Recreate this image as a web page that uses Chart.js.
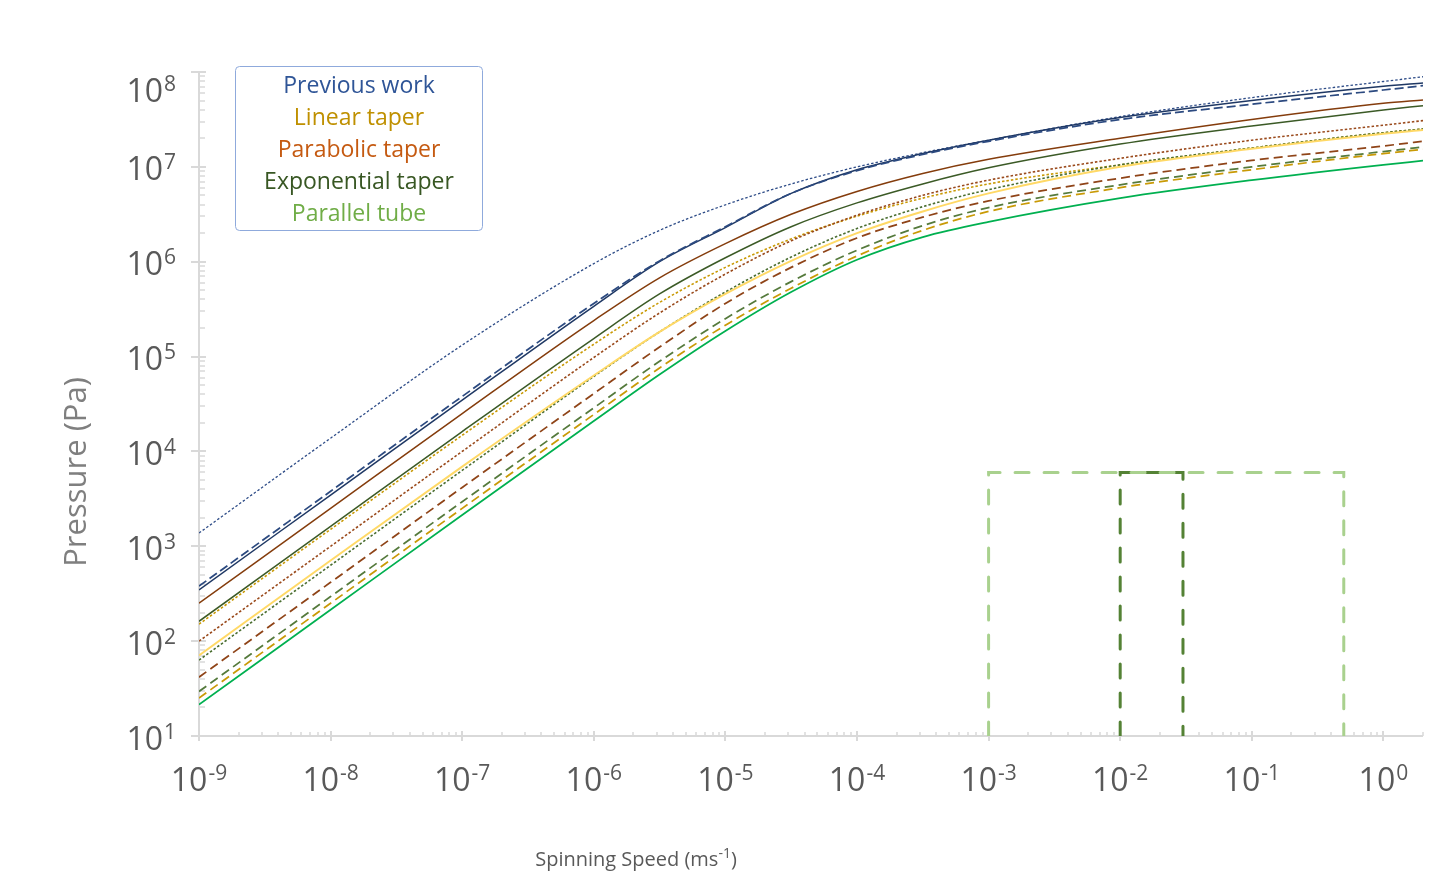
<!DOCTYPE html>
<html>
<head>
<meta charset="utf-8">
<script src="https://cdn.jsdelivr.net/npm/chart.js@4.4.1/dist/chart.umd.min.js"></script>
<style>
  body { margin: 0; background: #fff; }
  #wrap { width: 1450px; height: 875px; }
</style>
</head>
<body>
<div id="wrap"><canvas id="chart" width="1450" height="875"></canvas></div>
<script>
// Spinning speed (m/s) at which each curve was read
const speeds = [1e-9, 1e-8, 1e-7, 1e-6, 3.16e-6, 1e-5, 3.16e-5, 1e-4, 3.16e-4, 1e-3, 1e-2, 1e-1, 1, 2];

// Pressure (Pa) for each curve
const prevDotted  = [1.38e3, 1.38e4, 1.32e5, 9.55e5, 2.14e6, 3.98e6, 6.61e6, 1.0e7, 1.41e7, 1.91e7, 3.39e7, 5.37e7, 7.94e7, 8.91e7];
const prevSolid   = [3.47e2, 3.47e3, 3.47e4, 3.39e5, 1.0e6, 2.29e6, 5.25e6, 9.33e6, 1.38e7, 1.91e7, 3.31e7, 5.01e7, 7.08e7, 7.67e7];
const prevDashed  = [3.80e2, 3.80e3, 3.80e4, 3.63e5, 1.02e6, 2.34e6, 5.25e6, 9.12e6, 1.35e7, 1.86e7, 3.16e7, 4.57e7, 6.46e7, 7.18e7];
const paraSolid   = [2.51e2, 2.51e3, 2.51e4, 2.40e5, 6.76e5, 1.55e6, 3.16e6, 5.50e6, 8.51e6, 1.20e7, 2.0e7, 3.16e7, 4.68e7, 5.07e7];
const expoSolid   = [1.62e2, 1.62e3, 1.62e4, 1.55e5, 4.57e5, 1.10e6, 2.34e6, 4.17e6, 6.61e6, 9.77e6, 1.74e7, 2.69e7, 3.98e7, 4.42e7];
const linDotted   = [1.51e2, 1.51e3, 1.48e4, 1.35e5, 3.72e5, 8.71e5, 1.74e6, 3.02e6, 4.68e6, 6.61e6, 1.05e7, 1.58e7, 2.29e7, 2.51e7];
const paraDotted  = [1.0e2, 1.0e3, 1.0e4, 9.77e4, 2.88e5, 7.41e5, 1.66e6, 3.09e6, 5.01e6, 7.24e6, 1.23e7, 1.91e7, 2.75e7, 3.07e7];
const linSolid    = [70.8, 7.08e2, 6.92e3, 6.31e4, 1.82e5, 4.57e5, 1.02e6, 2.0e6, 3.39e6, 5.25e6, 1.0e7, 1.55e7, 2.24e7, 2.45e7];
const expoDotted  = [63.1, 6.31e2, 6.31e3, 6.17e4, 1.82e5, 4.79e5, 1.12e6, 2.24e6, 3.80e6, 5.75e6, 1.05e7, 1.58e7, 2.29e7, 2.51e7];
const paraDashed  = [41.7, 4.17e2, 4.17e3, 4.07e4, 1.26e5, 3.63e5, 8.71e5, 1.78e6, 2.95e6, 4.37e6, 7.59e6, 1.17e7, 1.66e7, 1.86e7];
const expoDashed  = [29.5, 2.95e2, 2.95e3, 2.88e4, 8.91e4, 2.51e5, 6.17e5, 1.32e6, 2.40e6, 3.72e6, 6.46e6, 1.0e7, 1.45e7, 1.62e7];
const linDashed   = [25.1, 2.51e2, 2.51e3, 2.45e4, 7.59e4, 2.14e5, 5.25e5, 1.15e6, 2.14e6, 3.39e6, 6.03e6, 9.33e6, 1.38e7, 1.53e7];
const tubeSolid   = [21.4, 2.14e2, 2.14e3, 2.09e4, 6.46e4, 1.86e5, 4.79e5, 1.05e6, 1.82e6, 2.63e6, 4.68e6, 7.24e6, 1.05e7, 1.16e7];

// Operating windows (dashed boxes)
const wideBoxX = [1e-3, 1e-3, 0.5, 0.5];
const narrowBoxX = [0.01, 0.01, 0.03, 0.03];
const boxY = [10, 6000, 6000, 10];

// Axis tick exponents
const xExponents = [-9, -8, -7, -6, -5, -4, -3, -2, -1, 0];
const yExponents = [1, 2, 3, 4, 5, 6, 7, 8];

// Text box
const legendNames = ["Previous work", "Linear taper", "Parabolic taper", "Exponential taper", "Parallel tube"];
const legendColors = ["#2f5597", "#bf9000", "#c55a11", "#385723", "#70ad47"];

const toPoints = (xs, ys) => xs.map((x, i) => ({ x: x, y: ys[i] }));

const DOT = [2.5, 2];
const DASH = [9, 5];

function curve(label, values, color, width, dash) {
  return {
    label: label,
    data: toPoints(speeds, values),
    borderColor: color,
    borderWidth: width,
    borderDash: dash || [],
    showLine: true,
    pointRadius: 0,
    cubicInterpolationMode: "monotone",
  };
}

function box(label, xs, color) {
  return {
    label: label,
    data: toPoints(xs, boxY),
    borderColor: color,
    borderWidth: 3,
    borderDash: [14, 15],
    borderCapStyle: "round",
    borderJoinStyle: "miter",
    showLine: true,
    pointRadius: 0,
    tension: 0,
  };
}

const datasets = [
  curve("Parallel tube", tubeSolid, "#00b050", 1.75),
  curve("Linear dashed", linDashed, "#c99a06", 1.75, DASH),
  curve("Exponential dashed", expoDashed, "#557a3c", 1.75, DASH),
  curve("Parabolic dashed", paraDashed, "#8f4418", 1.75, DASH),
  curve("Linear solid", linSolid, "#ffd966", 2),
  curve("Exponential dotted", expoDotted, "#4a6e30", 1.6, DOT),
  curve("Parabolic dotted", paraDotted, "#9a4a1c", 1.6, DOT),
  curve("Linear dotted", linDotted, "#c99a06", 1.6, DOT),
  curve("Exponential solid", expoSolid, "#3b5a26", 1.5),
  curve("Parabolic solid", paraSolid, "#843c0c", 1.5),
  curve("Previous dashed", prevDashed, "#2c4a80", 1.75, [9, 4]),
  curve("Previous solid", prevSolid, "#1f3864", 1.5),
  curve("Previous dotted", prevDotted, "#2f4d88", 1.3, DOT),
  box("Wide window", wideBoxX, "#a9d18e"),
  box("Narrow window", narrowBoxX, "#548235"),
];

// Excel style axes, ticks, labels and text box
function drawPower(ctx, exp, x, baseline, align) {
  ctx.font = '32px "Open Sans"';
  const wb = ctx.measureText("10").width;
  ctx.font = '21px "Open Sans"';
  const we = ctx.measureText(exp).width;
  const total = wb + 1 + we;
  const left = align === "center" ? x - total / 2 : x - total;
  ctx.textAlign = "left";
  ctx.textBaseline = "alphabetic";
  ctx.font = '32px "Open Sans"';
  ctx.fillText("10", left, baseline);
  ctx.font = '21px "Open Sans"';
  ctx.fillText(exp, left + wb + 1, baseline - 11);
}

const excelAxes = {
  id: "excelAxes",
  beforeDatasetsDraw(chart) {
    const { ctx, chartArea: a, scales: { x, y } } = chart;
    const seg = (x1, y1, x2, y2) => { ctx.moveTo(x1, y1); ctx.lineTo(x2, y2); };
    ctx.save();
    ctx.strokeStyle = "#d9d9d9";
    ctx.lineWidth = 2;
    ctx.beginPath();
    seg(a.left, a.top, a.left, a.bottom + 1);
    seg(a.left - 1, a.bottom, a.right, a.bottom);
    // major ticks
    yExponents.forEach((e) => {
      const py = Math.round(y.getPixelForValue(Math.pow(10, e)));
      seg(a.left - 8, py, a.left + 7, py);
    });
    xExponents.forEach((e) => {
      const px = Math.round(x.getPixelForValue(Math.pow(10, e)));
      seg(px, a.bottom - 5, px, a.bottom + 5);
    });
    ctx.stroke();
    // minor ticks
    ctx.lineWidth = 1.5;
    ctx.beginPath();
    yExponents.slice(0, -1).forEach((e) => {
      for (let m = 2; m < 10; m++) {
        const py = Math.round(y.getPixelForValue(m * Math.pow(10, e)));
        seg(a.left, py, a.left + 6, py);
      }
    });
    xExponents.forEach((e) => {
      for (let m = 2; m < 10; m++) {
        const v = m * Math.pow(10, e);
        if (v > x.max) break;
        const px = Math.round(x.getPixelForValue(v));
        seg(px, a.bottom - 4, px, a.bottom);
      }
    });
    ctx.stroke();
    ctx.restore();
  },
  afterDraw(chart) {
    const { ctx, scales: { x, y } } = chart;
    ctx.save();
    ctx.fillStyle = "#595959";
    yExponents.forEach((e) => {
      const py = y.getPixelForValue(Math.pow(10, e));
      drawPower(ctx, String(e), 176, Math.max(py + 13.5, 102), "right");
    });
    xExponents.forEach((e) => {
      const px = x.getPixelForValue(Math.pow(10, e));
      drawPower(ctx, String(e), px, 791, "center");
    });

    // axis titles
    ctx.fillStyle = "#7f7f7f";
    ctx.font = '31px "Open Sans"';
    ctx.textAlign = "center";
    ctx.textBaseline = "middle";
    ctx.save();
    ctx.translate(77, 472);
    ctx.rotate(-Math.PI / 2);
    ctx.fillText("Pressure (Pa)", 0, 0);
    ctx.restore();

    ctx.fillStyle = "#595959";
    ctx.textAlign = "left";
    ctx.textBaseline = "alphabetic";
    const t1 = "Spinning Speed (ms", t2 = "-1", t3 = ")";
    ctx.font = '20px "Open Sans"';
    const w1 = ctx.measureText(t1).width, w3 = ctx.measureText(t3).width;
    ctx.font = '14px "Open Sans"';
    const w2 = ctx.measureText(t2).width;
    const tx = 636 - (w1 + w2 + w3) / 2;
    ctx.font = '20px "Open Sans"';
    ctx.fillText(t1, tx, 866);
    ctx.font = '14px "Open Sans"';
    ctx.fillText(t2, tx + w1, 858);
    ctx.font = '20px "Open Sans"';
    ctx.fillText(t3, tx + w1 + w2, 866);

    // text box with coloured names
    ctx.strokeStyle = "#8faadc";
    ctx.lineWidth = 1;
    ctx.beginPath();
    ctx.roundRect(235.5, 66.5, 247, 164, 4);
    ctx.stroke();
    ctx.font = '23px "Open Sans"';
    ctx.textAlign = "center";
    ctx.textBaseline = "middle";
    legendNames.forEach((name, i) => {
      ctx.fillStyle = legendColors[i];
      ctx.fillText(name, 359, 86 + i * 32.2);
    });
    ctx.restore();
  },
};

new Chart(document.getElementById("chart"), {
  type: "scatter",
  data: { datasets: datasets },
  options: {
    responsive: false,
    animation: false,
    layout: { padding: { left: 199, right: 27, top: 72, bottom: 139 } },
    scales: {
      x: { type: "logarithmic", min: 1e-9, max: 2, display: false },
      y: { type: "logarithmic", min: 10, max: 1e8, display: false },
    },
    plugins: {
      legend: { display: false },
      tooltip: { enabled: false },
    },
  },
  plugins: [excelAxes],
});
</script>
</body>
</html>
